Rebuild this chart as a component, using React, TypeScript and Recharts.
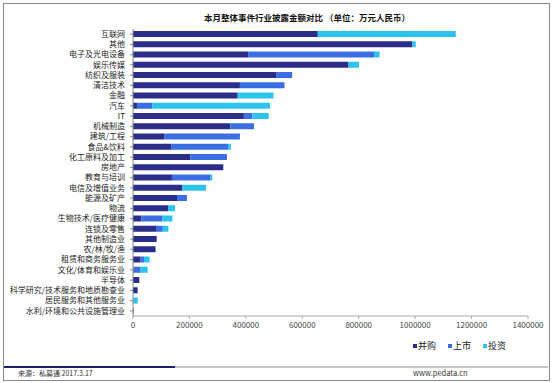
import { Bar, BarChart, Legend, XAxis, YAxis } from "recharts";

const categories = [
  "互联网",
  "其他",
  "电子及光电设备",
  "娱乐传媒",
  "纺织及服装",
  "清洁技术",
  "金融",
  "汽车",
  "IT",
  "机械制造",
  "建筑/工程",
  "食品&饮料",
  "化工原料及加工",
  "房地产",
  "教育与培训",
  "电信及增值业务",
  "能源及矿产",
  "物流",
  "生物技术/医疗健康",
  "连锁及零售",
  "其他制造业",
  "农/林/牧/渔",
  "租赁和商务服务业",
  "文化/体育和娱乐业",
  "半导体",
  "科学研究/技术服务和地质勘查业",
  "居民服务和其他服务业",
  "水利/环境和公共设施管理业"
];

// 单位：万元人民币
const mergers = [
  655000, 990000, 408000, 764000, 507000, 379000, 371000, 14000, 393000, 345000,
  112000, 135000, 203000, 320000, 138000, 174000, 156000, 124000, 29500, 81500,
  84000, 80000, 27000, 2000, 22500, 16500, 0, 2000
];
const listings = [
  0, 0, 446000, 0, 57000, 158000, 0, 54000, 30000, 84000,
  267000, 202000, 130000, 0, 137000, 0, 35000, 0, 75000, 24000,
  0, 0, 12000, 25000, 0, 0, 1000, 0
];
const investments = [
  489000, 12000, 20000, 37000, 0, 0, 127000, 418000, 58000, 0,
  0, 10000, 0, 0, 6000, 85000, 0, 25000, 35000, 20000,
  0, 0, 20000, 25000, 0, 0, 16000, 0
];

const xTicks = [0, 200000, 400000, 600000, 800000, 1000000, 1200000, 1400000];

const series = [
  { key: "并购", color: "#2b2d88" },
  { key: "上市", color: "#3a6ee2" },
  { key: "投资", color: "#2cc4ec" }
];

const data = categories.map((name, i) => ({
  name,
  并购: mergers[i],
  上市: listings[i],
  投资: investments[i]
}));

const font = '"Noto Sans CJK SC", "Noto Sans", sans-serif';

function LegendContent() {
  return (
    <div style={{ display: "flex", fontSize: 9, color: "#222", fontFamily: font, lineHeight: "12px" }}>
      {series.map((s) => (
        <div key={s.key} style={{ display: "flex", alignItems: "center", marginRight: 12 }}>
          <span style={{ width: 4, height: 4, background: s.color, marginRight: 1 }} />
          <span>{s.key}</span>
        </div>
      ))}
    </div>
  );
}

export default function App() {
  return (
    <div style={{ position: "absolute", left: 0, top: 0, width: 552, height: 383, background: "#fff", fontFamily: font }}>
      <div
        style={{
          position: "absolute",
          left: 3,
          top: 3,
          width: 545,
          height: 376,
          border: "1px solid #8a8a8a"
        }}
      />
      <div
        style={{
          position: "absolute",
          left: 204,
          top: 11,
          fontSize: 8.5,
          fontWeight: 700,
          color: "#111",
          whiteSpace: "nowrap",
          lineHeight: "12px"
        }}
      >
        本月整体事件行业披露金额对比 （单位：万元人民币）
      </div>
      <div style={{ position: "absolute", left: 0, top: 0 }}>
        <BarChart
          width={552}
          height={383}
          data={data}
          layout="vertical"
          margin={{ top: 29, right: 24, bottom: 47, left: 0 }}
          barSize={6}
        >
          <XAxis
            type="number"
            domain={[0, 1400000]}
            ticks={xTicks}
            interval={0}
            tick={{ fontSize: 8, fill: "#444", fontFamily: font }}
            axisLine={{ stroke: "#aaa" }}
            tickLine={{ stroke: "#aaa" }}
            tickSize={3}
            tickMargin={3}
            height={20}
          />
          <YAxis
            type="category"
            dataKey="name"
            width={133}
            interval={0}
            tick={{ fontSize: 8, fill: "#222", fontFamily: font }}
            axisLine={{ stroke: "#888" }}
            tickLine={{ stroke: "#888" }}
            tickSize={3}
            tickMargin={5}
          />
          <Legend
            layout="horizontal"
            verticalAlign="middle"
            align="center"
            content={LegendContent}
            wrapperStyle={{ top: 340, left: 413, width: "auto" }}
          />
          {series.map((s) => (
            <Bar key={s.key} dataKey={s.key} stackId="a" fill={s.color} isAnimationActive={false} />
          ))}
        </BarChart>
      </div>
      <div style={{ position: "absolute", left: 4, top: 366, width: 171, height: 2, background: "#1c1f6e" }} />
      <div style={{ position: "absolute", left: 175, top: 366, width: 373, height: 2, background: "#c4c4c4" }} />
      <div
        style={{ position: "absolute", left: 18, top: 368, fontSize: 7, color: "#333", whiteSpace: "nowrap", lineHeight: "10px" }}
      >
        来源：私募通 2017.3.17
      </div>
      <div
        style={{ position: "absolute", left: 413, top: 368, fontSize: 7.5, color: "#333", whiteSpace: "nowrap", lineHeight: "10px" }}
      >
        www.pedata.cn
      </div>
    </div>
  );
}
